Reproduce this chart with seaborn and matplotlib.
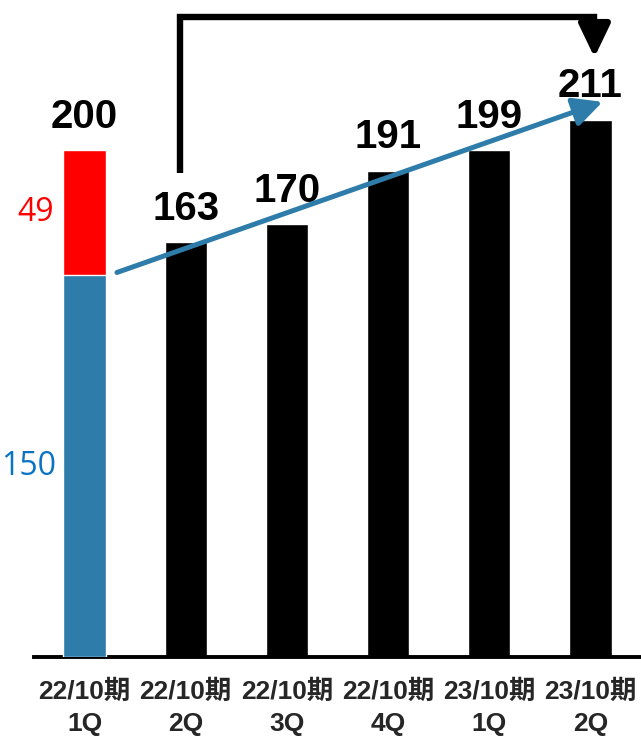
import matplotlib
matplotlib.use('Agg')
import matplotlib.pyplot as plt
import seaborn as sns
import pandas as pd

# ---- data
categories = ['22/10期\n1Q', '22/10期\n2Q', '22/10期\n3Q', '22/10期\n4Q', '23/10期\n1Q', '23/10期\n2Q']
totals = [199, 163, 170, 191, 199, 211]
total_labels = ['200', '163', '170', '191', '199', '211']
first_blue = 150
first_red = 49

BLUE_BAR = '#2e7ca9'
BLUE_TXT = '#0a74c4'
RED = '#ff0000'
LABEL_FONT = ['Liberation Sans', 'Noto Sans CJK JP']


def main():
	sns.set_style('white')
	plt.rcParams['font.family'] = LABEL_FONT

	fig = plt.figure(figsize=(6.41, 7.39), dpi=100)
	ax = fig.add_axes([34 / 641, 82 / 739, 1 - 34 / 641, 1 - 82 / 739])

	df = pd.DataFrame({'cat': categories, 'total': totals})
	colors = [RED] + ['black'] * (len(categories) - 1)
	width = 0.42
	sns.barplot(data=df, x='cat', y='total', hue='cat', palette=colors,
	            legend=False, width=width, saturation=1, ax=ax)
	# blue base of first (stacked) bar
	ax.bar(0, first_blue, width=width, color=BLUE_BAR, zorder=3)

	ax.set_xlim(-0.5, len(categories) - 0.5)
	ax.set_ylim(0, 258)
	ax.set_yticks([])
	ax.set_xlabel('')
	ax.set_ylabel('')
	for s in ['left', 'right', 'top']:
		ax.spines[s].set_visible(False)
	ax.spines['bottom'].set_color('black')
	ax.spines['bottom'].set_linewidth(2.8)

	ax.set_xticks(range(len(categories)))
	ax.set_xticklabels(categories, fontsize=19, fontweight='bold', linespacing=1.45)
	ax.tick_params(axis='x', length=0, pad=16)

	# total labels
	for i, (v, lab) in enumerate(zip(totals, total_labels)):
		ax.annotate(lab, xy=(i, v), xytext=(0, 16), textcoords='offset points',
		            ha='center', va='baseline', fontsize=29, fontweight='bold',
		            color='black')

	# segment labels of first bar
	ax.annotate(str(first_red), xy=(-width / 2, first_blue + first_red / 2),
	            xytext=(-7, 0), textcoords='offset points', ha='right', va='center',
	            fontsize=23, color=RED, fontweight='medium',
	            family=['Open Sans', 'DejaVu Sans'])
	ax.annotate(str(first_blue), xy=(-width / 2, first_blue / 2),
	            xytext=(-5, 0), textcoords='offset points', ha='right', va='center',
	            fontsize=23, color=BLUE_TXT, fontweight='medium',
	            family=['Open Sans', 'DejaVu Sans'])

	# blue trend arrow
	ax.annotate('', xy=(len(totals) - 1 + 0.12, totals[-1] + 7),
	            xytext=(width / 2 + 0.11, first_blue + 1),
	            arrowprops=dict(arrowstyle='-|>,head_length=0.8,head_width=0.4',
	                            mutation_scale=22, lw=3.6, color=BLUE_BAR,
	                            shrinkA=0, shrinkB=0))

	# black connector from 2Q to latest
	x0 = 1 - 0.06
	x1 = len(totals) - 1 + 0.04
	y_low = totals[1] + 27
	y_top = 251.5
	y_tip = totals[-1] + 24.5
	ax.plot([x0, x0, x1, x1], [y_low, y_top, y_top, y_top - 3], color='black',
	        lw=4.6, solid_joinstyle='miter', solid_capstyle='butt', clip_on=False)
	ax.annotate('', xy=(x1, y_tip), xytext=(x1, y_top - 2),
	            arrowprops=dict(arrowstyle='-|>,head_length=1.0,head_width=0.48',
	                            mutation_scale=20, lw=4.6, color='black',
	                            shrinkA=0, shrinkB=0), annotation_clip=False)

	fig.savefig('out.png', dpi=100)
	plt.close(fig)


if __name__ == '__main__':
	main()
